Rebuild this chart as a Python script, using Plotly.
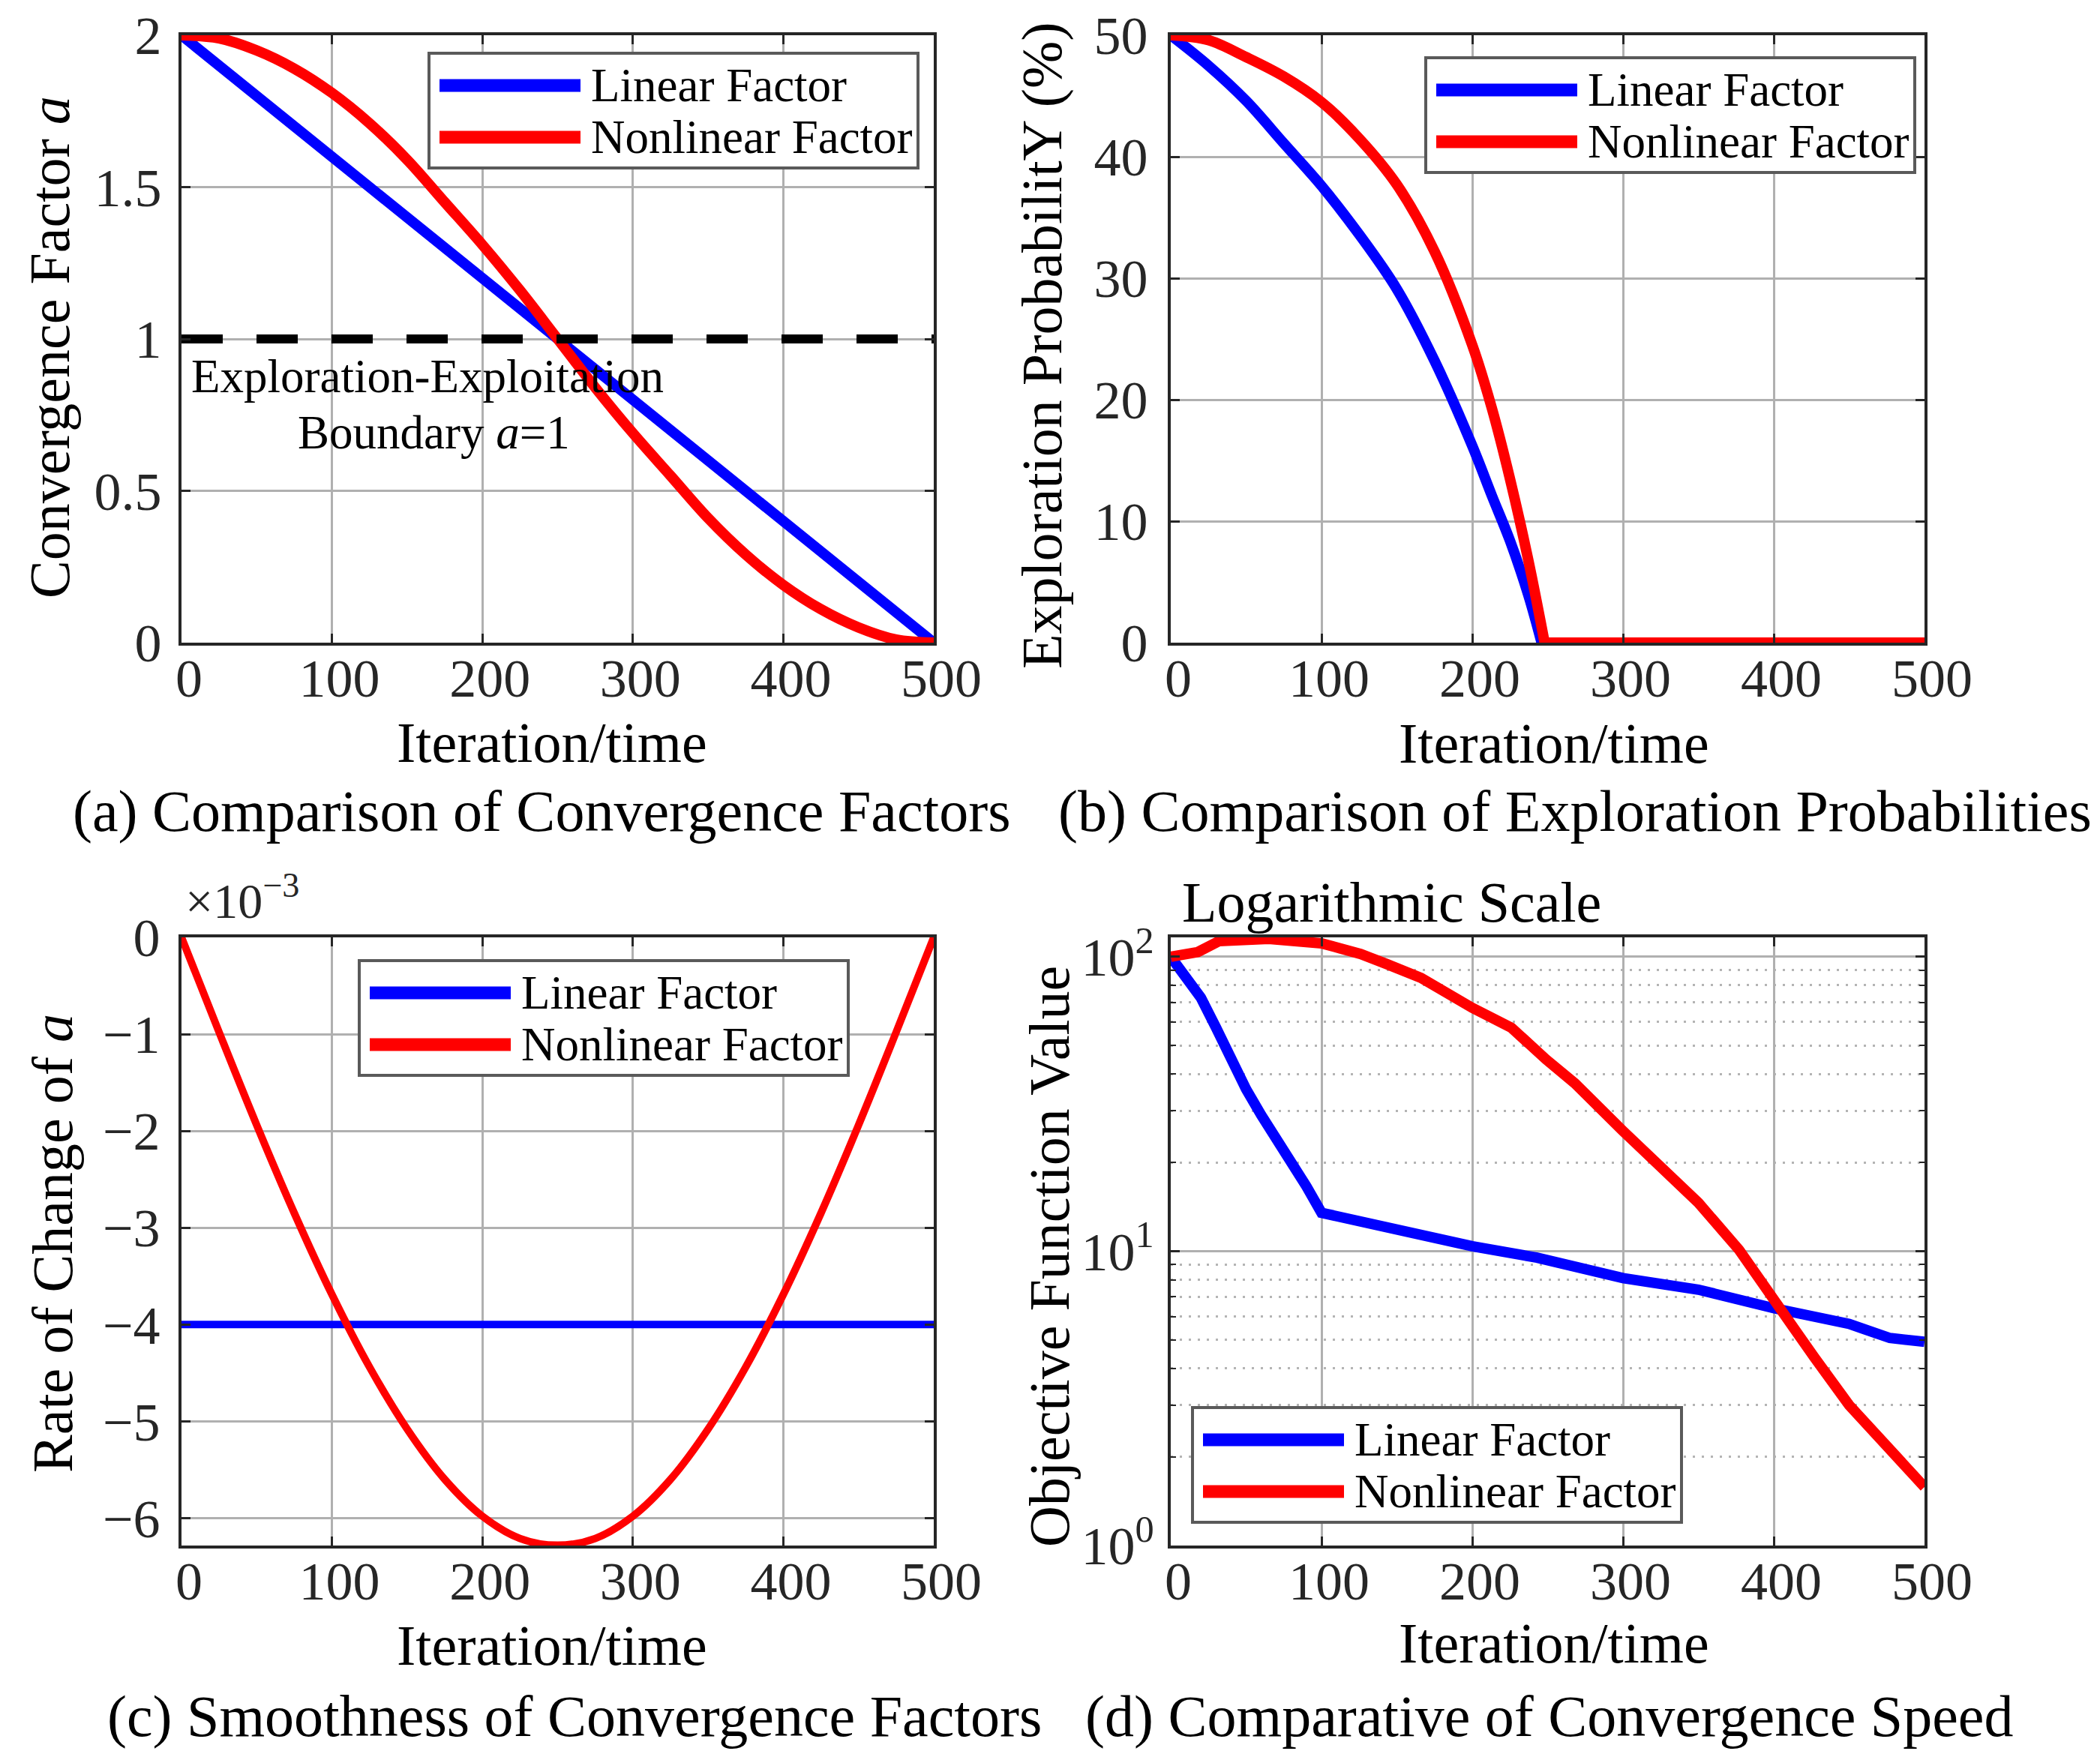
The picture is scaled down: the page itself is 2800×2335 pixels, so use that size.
import plotly.graph_objects as go

# ------------------------------------------------------------------
# Data
# ------------------------------------------------------------------
# (a) convergence factor a
A_LIN_X = [0, 500]
A_LIN_Y = [2.0, 0.0]
A_NL_X = [0, 25, 50, 75, 100, 125, 150, 175, 200, 225, 250,
          275, 300, 325, 350, 375, 400, 425, 450, 475, 500]
A_NL_Y = [2.00, 1.99, 1.95, 1.89, 1.81, 1.71, 1.59, 1.45, 1.31, 1.16, 1.00,
          0.84, 0.69, 0.55, 0.41, 0.29, 0.19, 0.11, 0.05, 0.01, 0.00]
BOUNDARY_X = [0, 500]
BOUNDARY_Y = [1, 1]

# (b) exploration probability Y (%)
B_LIN_X = [0, 25, 50, 75, 100, 125, 150, 175, 200, 213, 225, 237, 246]
B_LIN_Y = [50, 47.5, 44.6, 41.1, 37.6, 33.6, 29.1, 23.2, 16.2, 12.1, 8.4, 4.0, 0]
B_LIN_TAIL_X = [246, 500]
B_LIN_TAIL_Y = [0, 0]
B_NL_X = [0, 25, 50, 75, 100, 125, 150, 175, 200, 213, 225, 237, 248]
B_NL_Y = [50, 49.6, 48.2, 46.6, 44.5, 41.5, 37.7, 32.2, 24.5, 19.3, 13.5, 6.9, 0]
B_NL_TAIL_X = [248, 500]
B_NL_TAIL_Y = [0, 0]

# (c) rate of change of a (x 10^-3)
C_LIN_X = [0, 500]
C_LIN_Y = [-4.0, -4.0]
C_NL_X = [0, 25, 50, 75, 100, 125, 150, 175, 200, 225, 250,
          275, 300, 325, 350, 375, 400, 425, 450, 475, 500]
C_NL_Y = [0, -0.98, -1.94, -2.85, -3.69, -4.44, -5.08, -5.60, -5.98, -6.21, -6.28,
          -6.21, -5.98, -5.60, -5.08, -4.44, -3.69, -2.85, -1.94, -0.98, 0]

# (d) objective function value (log scale)
D_LIN_X = [0, 10, 20, 30, 40, 50, 60, 70, 80, 90, 100,
           150, 200, 243, 300, 350, 400, 450, 477, 500]
D_LIN_Y = [100, 84.8, 72.6, 57.5, 44.8, 35.5, 29.0, 24.0, 20.6, 16.6, 13.5,
           11.75, 10.4, 9.5, 8.1, 7.4, 6.4, 5.66, 5.07, 4.92]
D_NL_X = [0, 18, 32, 65, 100, 126, 143, 166, 200, 226, 249,
          268, 300, 326, 350, 377, 400, 427, 450, 477, 500]
D_NL_Y = [100, 103.8, 113.0, 115.0, 111.1, 102.2, 94.6, 84.8, 67.1, 57.4, 44.8,
          37.2, 25.6, 19.3, 14.6, 10.1, 6.8, 4.35, 3.0, 2.12, 1.58]

X_TICKS = [0, 100, 200, 300, 400, 500]
LEGEND_NAMES = ["Linear Factor", "Nonlinear Factor"]

# ------------------------------------------------------------------
# Style
# ------------------------------------------------------------------
W, H = 2800, 2335
FONT = "Liberation Serif"
INK = "#262626"
GRID = "#b0b0b0"
BLUE = "#0000ff"
RED = "#ff0000"

F_TICK = 72
F_LABEL = 76
F_CAPTION = 78
F_LEGEND = 63
LW = 14        # curve width, panels a/b/d
LW_C = 10      # curve width, panel c

COL_L = (234, 1237)
COL_R = (1553, 2558)
ROW_T = (39, 849)
ROW_B = (1242, 2053)


def fx(px):
    return px / W


def fy(py):
    return 1 - py / H


def xdom(col):
    return [fx(col[0]), fx(col[1])]


def ydom(row):
    return [fy(row[1]), fy(row[0])]


def base_axis(**kw):
    d = dict(showline=True, linecolor=INK, linewidth=4, mirror="allticks",
             ticks="inside", ticklen=12, tickwidth=3, tickcolor=INK,
             showgrid=True, gridcolor=GRID, gridwidth=3, zeroline=False,
             automargin=False,
             tickfont=dict(family=FONT, size=F_TICK, color=INK))
    d.update(kw)
    return d


def x_axis(col, anchor):
    return base_axis(domain=xdom(col), anchor=anchor, range=[0, 500],
                     tickvals=X_TICKS, ticklabelstandoff=-18, ticklabelshift=10)


fig = go.Figure()


def line(x, y, color, width, ax, dash="solid", shape="linear"):
    fig.add_trace(go.Scatter(
        x=x, y=y, mode="lines", xaxis="x" + ax, yaxis="y" + ax,
        line=dict(color=color, width=width, dash=dash, shape=shape),
        showlegend=False, hoverinfo="skip"))


# (a)
line(A_LIN_X, A_LIN_Y, BLUE, LW, "")
line(A_NL_X, A_NL_Y, RED, LW, "", shape="spline")
line(BOUNDARY_X, BOUNDARY_Y, "black", 12, "", dash="55px,45px")
# (b)
line(B_LIN_X, B_LIN_Y, BLUE, LW, "2", shape="spline")
line(B_LIN_TAIL_X, B_LIN_TAIL_Y, BLUE, LW, "2")
line(B_NL_X, B_NL_Y, RED, LW, "2", shape="spline")
line(B_NL_TAIL_X, B_NL_TAIL_Y, RED, LW, "2")
# (c)
line(C_LIN_X, C_LIN_Y, BLUE, LW_C, "3")
line(C_NL_X, C_NL_Y, RED, LW_C, "3", shape="spline")
# (d)
line(D_LIN_X, D_LIN_Y, BLUE, LW, "4")
line(D_NL_X, D_NL_Y, RED, LW, "4")

annotations = []
shapes = []


def text(px, py, s, size, angle=0, xanchor="center", color="black"):
    annotations.append(dict(
        x=fx(px), y=fy(py), xref="paper", yref="paper", text=s,
        showarrow=False, textangle=angle, xanchor=xanchor, yanchor="middle",
        font=dict(family=FONT, size=size, color=color)))


def legend(x0, y0):
    # box 652 x 153 px, line samples 190 px long
    shapes.append(dict(type="rect", xref="paper", yref="paper",
                       x0=fx(x0), x1=fx(x0 + 652), y0=fy(y0 + 153), y1=fy(y0),
                       line=dict(color="#5a5a5a", width=4), fillcolor="white",
                       layer="above"))
    for i, (name, color) in enumerate(zip(LEGEND_NAMES, [BLUE, RED])):
        yy = y0 + 43 + i * 69
        shapes.append(dict(type="line", xref="paper", yref="paper",
                           x0=fx(x0 + 14), x1=fx(x0 + 202), y0=fy(yy), y1=fy(yy),
                           line=dict(color=color, width=17), layer="above"))
        text(x0 + 214, yy, name, F_LEGEND, xanchor="left")


legend(564, 63)
legend(1893, 69)
legend(471, 1273)
legend(1582, 1869)

# axis titles
text(58, 455, "Convergence Factor <i>a</i>", F_LABEL, angle=-90)
text(1381, 453, "Exploration ProbabilitY (%)", F_LABEL, angle=-90)
text(62, 1650, "Rate of Change of <i>a</i>", F_LABEL, angle=-90)
text(1391, 1668, "Objective Function Value", F_LABEL, angle=-90)
for cx, cy in [(728, 982), (2064, 983), (728, 2186), (2064, 2183)]:
    text(cx, cy, "Iteration/time", F_LABEL)

# captions
text(714, 1073, "(a) Comparison of Convergence Factors", F_CAPTION)
text(2092, 1073, "(b) Comparison of Exploration Probabilities", F_CAPTION)
text(758, 2280, "(c) Smoothness of Convergence Factors", F_CAPTION)
text(2058, 2280, "(d) Comparative of Convergence Speed", F_CAPTION)

# extra labels
text(562, 494, "Exploration-Exploitation", F_LEGEND)
text(570, 569, "Boundary <i>a</i>=1", F_LEGEND)
text(1566, 1195, "Logarithmic Scale", F_LABEL, xanchor="left")
text(237, 1188, "×10<sup>−3</sup>", 66, xanchor="left", color=INK)

fig.update_layout(
    template="none",
    width=W, height=H,
    margin=dict(l=0, r=0, t=0, b=0, pad=0),
    paper_bgcolor="white", plot_bgcolor="white",
    showlegend=False,
    font=dict(family=FONT, color="black"),
    xaxis=x_axis(COL_L, "y"),
    yaxis=base_axis(domain=ydom(ROW_T), anchor="x", range=[0, 2],
                    tickvals=[0, 0.5, 1, 1.5, 2],
                    ticktext=["0", "0.5", "1", "1.5", "2"], ticklabelstandoff=8),
    xaxis2=x_axis(COL_R, "y2"),
    yaxis2=base_axis(domain=ydom(ROW_T), anchor="x2", range=[0, 50],
                     tickvals=[0, 10, 20, 30, 40, 50], ticklabelstandoff=12),
    xaxis3=x_axis(COL_L, "y3"),
    yaxis3=base_axis(domain=ydom(ROW_B), anchor="x3", range=[-6.283, 0],
                     tickvals=[-6, -5, -4, -3, -2, -1, 0], ticklabelstandoff=10),
    xaxis4=x_axis(COL_R, "y4"),
    yaxis4=base_axis(domain=ydom(ROW_B), anchor="x4", type="log", range=[0, 2.066],
                     tickvals=[1, 10, 100],
                     ticktext=["10<sup>0</sup>", "10<sup>1</sup>", "10<sup>2</sup>"],
                     ticklabelstandoff=4,
                     minor=dict(tickmode="array",
                                tickvals=[2, 3, 4, 5, 6, 7, 8, 9,
                                          20, 30, 40, 50, 60, 70, 80, 90],
                                ticks="inside", ticklen=7, tickwidth=2, tickcolor=INK,
                                showgrid=True, gridcolor="#b4b4b4", gridwidth=3,
                                griddash="3px,9px")),
    annotations=annotations,
    shapes=shapes,
)

fig.write_html("out.html")
